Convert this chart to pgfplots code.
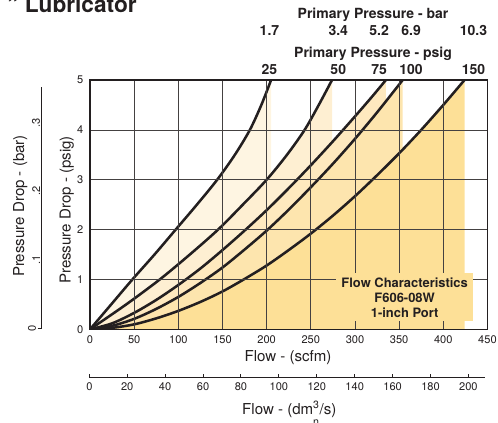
\documentclass[border=0pt]{standalone}
\usepackage{fontspec}
\setmainfont{TeX Gyre Heros}
\usepackage{pgfplots}
\pgfplotsset{compat=1.18}
\definecolor{ink}{HTML}{231F20}
\definecolor{fA}{HTML}{FEF5E2}
\definecolor{fB}{HTML}{FEEFD2}
\definecolor{fC}{HTML}{FEE9BF}
\definecolor{fD}{HTML}{FDE5AE}
\definecolor{fE}{HTML}{FDE097}
\newcommand{\tickfont}{\fontsize{8.3}{10}\selectfont}
\newcommand{\labfont}{\fontsize{11.3}{13}\selectfont}
\newcommand{\topfont}{\fontsize{10.5}{12}\selectfont\bfseries}
\begin{document}
\begin{tikzpicture}
\useasboundingbox (0,0) rectangle (373.5pt,316.5pt);
% main axis
\begin{axis}[
  at={(67.5pt,69.5pt)}, anchor=south west,
  scale only axis, width=298.1pt, height=187pt,
  xmin=0, xmax=450, ymin=0, ymax=5,
  xtick={0,50,...,450}, ytick={0,1,...,5},
  grid=major, grid style={line width=0.55pt, color=ink!85},
  major tick length=0pt,
  axis line style={line width=0.9pt, color=ink},
  axis on top,
  /pgf/number format/assume math mode=true,
  tick label style={font=\tickfont, text=ink},
  xticklabel style={yshift=-1.5pt},
  yticklabel style={xshift=-1.5pt},
]
\addplot[fill=fA, draw=none, smooth] coordinates {(0,0) (24,0.5) (48,1) (73,1.5) (97,2) (121,2.5) (144,3) (164,3.5) (181,4) (194,4.5) (205,5)} \closedcycle;
\addplot[fill=fB, draw=none, smooth] coordinates {(0,0) (41,0.5) (79,1) (113,1.5) (145,2) (173,2.5) (200,3) (223,3.5) (243,4) (259,4.5) (274,5)} \closedcycle;
\addplot[fill=fC, draw=none, smooth] coordinates {(0,0) (25,0.12) (50,0.33) (75,0.59) (100,0.89) (125,1.22) (150,1.59) (175,1.98) (200,2.39) (225,2.83) (250,3.29) (275,3.77) (300,4.27) (320,4.68) (335,5)} \closedcycle;
\addplot[fill=fD, draw=none, smooth] coordinates {(0,0) (25,0.07) (50,0.21) (75,0.41) (100,0.65) (125,0.93) (150,1.24) (175,1.60) (200,1.98) (225,2.40) (250,2.85) (275,3.32) (300,3.82) (325,4.35) (354,5)} \closedcycle;
\addplot[fill=fE, draw=none, smooth] coordinates {(0,0) (25,0.03) (50,0.10) (75,0.22) (100,0.37) (125,0.55) (150,0.76) (175,1.01) (200,1.28) (225,1.59) (250,1.92) (275,2.28) (300,2.67) (325,3.09) (350,3.53) (375,4.00) (400,4.50) (424,5)} \closedcycle;
\addplot[ink, line width=1.9pt, smooth] coordinates {(0,0) (24,0.5) (48,1) (73,1.5) (97,2) (121,2.5) (144,3) (164,3.5) (181,4) (194,4.5) (205,5)};
\addplot[ink, line width=1.9pt, smooth] coordinates {(0,0) (41,0.5) (79,1) (113,1.5) (145,2) (173,2.5) (200,3) (223,3.5) (243,4) (259,4.5) (274,5)};
\addplot[ink, line width=1.9pt, smooth] coordinates {(0,0) (25,0.12) (50,0.33) (75,0.59) (100,0.89) (125,1.22) (150,1.59) (175,1.98) (200,2.39) (225,2.83) (250,3.29) (275,3.77) (300,4.27) (320,4.68) (335,5)};
\addplot[ink, line width=1.9pt, smooth] coordinates {(0,0) (25,0.07) (50,0.21) (75,0.41) (100,0.65) (125,0.93) (150,1.24) (175,1.60) (200,1.98) (225,2.40) (250,2.85) (275,3.32) (300,3.82) (325,4.35) (354,5)};
\addplot[ink, line width=1.9pt, smooth] coordinates {(0,0) (25,0.03) (50,0.10) (75,0.22) (100,0.37) (125,0.55) (150,0.76) (175,1.01) (200,1.28) (225,1.59) (250,1.92) (275,2.28) (300,2.67) (325,3.09) (350,3.53) (375,4.00) (400,4.50) (424,5)};
\end{axis}
% bar axis (left)
\begin{axis}[
  at={(31.3pt,70.3pt)}, anchor=south west,
  scale only axis, width=10pt, height=181.2pt,
  hide x axis, axis y line*=left,
  axis line style={-, line width=0.9pt, color=ink},
  ymin=0, ymax=0.3527, xmin=0, xmax=1,
  ytick={0}, yticklabels={0},
  extra y ticks={0.1,0.2,0.3}, extra y tick labels={.1,.2,.3},
  extra y tick style={major tick length=0pt},
  tick align=outside, major tick length=3pt,
  tick style={line width=0.9pt, color=ink},
  tick label style={font=\tickfont, text=ink},
  yticklabel style={rotate=90, anchor=south, inner sep=1pt},
]
\addplot[draw=none] coordinates {(0,0)};
\end{axis}
% dm3/s axis (bottom)
\begin{axis}[
  at={(67pt,33.2pt)}, anchor=south west,
  scale only axis, width=296.8pt, height=10pt,
  hide y axis, axis x line*=bottom,
  axis line style={-, line width=0.9pt, color=ink},
  xmin=0, xmax=208.8, ymin=0, ymax=1,
  xtick={0,20,...,200},
  tick align=inside, major tick length=3pt,
  tick style={line width=0.7pt, color=ink},
  /pgf/number format/assume math mode=true,
  tick label style={font=\tickfont, text=ink},
]
\addplot[draw=none] coordinates {(0,0)};
\end{axis}
% labels
\node[anchor=base west, font=\fontsize{17}{19}\selectfont\bfseries, text=ink, inner sep=0pt] at (5.25pt,307pt) {" Lubricator};
\node[anchor=base, font=\topfont, text=ink, inner sep=0pt] at (279.75pt,302.25pt) {Primary Pressure - bar};
\node[anchor=base, font=\topfont, text=ink, inner sep=0pt] at (279.75pt,273.5pt) {Primary Pressure - psig};
\foreach \xx/\t in {202.1/1.7, 253.7/3.4, 284.3/5.2, 308.3/6.9, 355.1/10.3}
  \node[anchor=base, font=\topfont, text=ink, inner sep=0pt] at (\xx pt,289.5pt) {\t};
\foreach \xx/\t in {202.1/25, 253.7/50, 284.3/75, 308.3/100, 355.1/150}
  \node[anchor=base, font=\topfont, text=ink, inner sep=0pt] at (\xx pt,260.25pt) {\t};
\node[anchor=base, font=\labfont, text=ink, inner sep=0pt] at (216pt,45.2pt) {Flow - (scfm)};
\node[anchor=base, font=\labfont, text=ink, inner sep=0pt] at (217pt,6pt) {Flow - (dm\rlap{\raisebox{-1.5ex}{\fontsize{8}{9}\selectfont n}}\textsuperscript{3}/s)};
\node[anchor=base, rotate=90, font=\labfont, text=ink, inner sep=0pt] at (18pt,162pt) {Pressure Drop - (bar)};
\node[anchor=base, rotate=90, font=\labfont, text=ink, inner sep=0pt] at (53pt,159pt) {Pressure Drop - (psig)};
\node[fill=fE, align=center, font=\fontsize{9.7}{11.25}\selectfont\bfseries, text=ink, inner xsep=4pt, inner ysep=3pt] at (303.5pt,93.5pt) {Flow Characteristics\\F606-08W\\1-inch Port};
\end{tikzpicture}
\end{document}
